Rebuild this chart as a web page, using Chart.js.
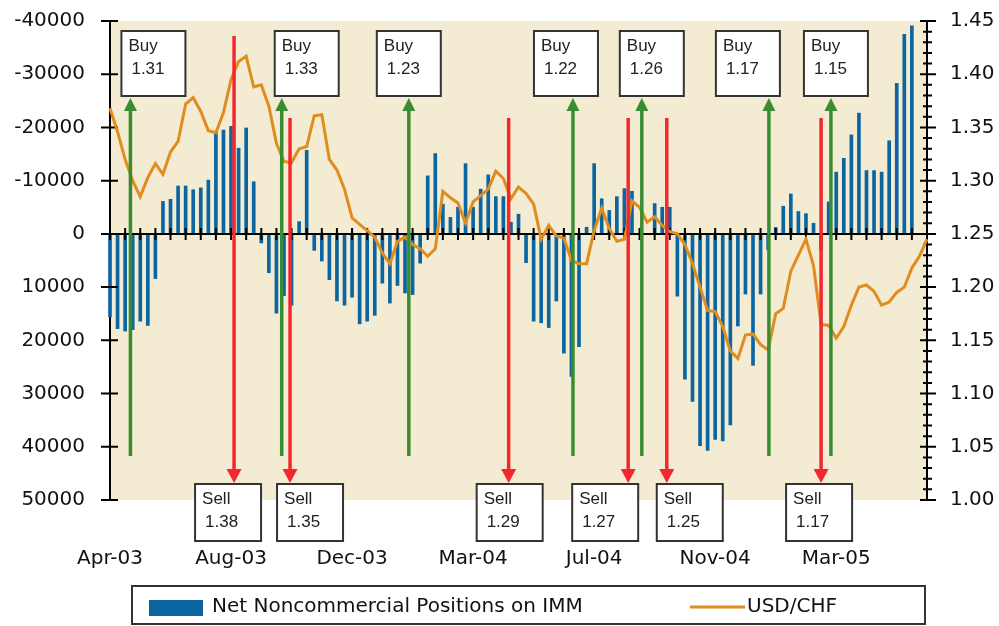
<!DOCTYPE html>
<html lang="en">
<head>
<meta charset="UTF-8">
<title>IMM Positions vs USD/CHF</title>
<script src="https://cdn.jsdelivr.net/npm/chart.js"></script>
<style>
    body { margin: 0; background: #fff; }
</style>
</head>
<body>
<canvas id="chart" width="999" height="626"></canvas>
<script>
// weekly categories, a date label every 16 weeks
const weeks = 109;
const tickLabels = ['Apr-03', 'Aug-03', 'Dec-03', 'Mar-04', 'Jul-04', 'Nov-04', 'Mar-05'];
const labelEvery = 16;

// Net noncommercial positions on IMM (contracts), left axis is reversed
const netPositions = [
    15600, 17800, 18250, 18000, 16400, 17200, 8400, -6100, -6500, -9000,
    -9000, -8300, -8650, -10100, -19100, -19500, -20200, -16100, -19900, -9800,
    1700, 7300, 14900, 11600, 13400, -2300, -15700, 3100, 5100, 8600,
    12600, 13400, 11900, 16900, 16400, 15300, 9250, 13000, 9700, 11100,
    11400, 5500, -10900, -15100, -5600, -3100, -5000, -13200, -5000, -8400,
    -11100, -7000, -7000, -2200, -3700, 5400, 16400, 16700, 17600, 12600,
    22400, 26800, 21200, -1250, -13200, -6600, -4400, -7000, -8500, -8000,
    null, null, -5700, -5000, -5000, 11700, 27300, 31500, 39800, 40700,
    38600, 38900, 35900, 17300, 11300, 24700, 11300, 3000, -1200, -5200,
    -7500, -4200, -3800, -2000, 3000, -6000, -11600, -14200, -18600, -22700,
    -11900, -11900, -11600, -17500, -28300, -37500, -39100
];

// USD/CHF, right axis
const usdChf = [
    1.368, 1.346, 1.320, 1.300, 1.285, 1.303, 1.316, 1.306, 1.327, 1.337,
    1.372, 1.378, 1.365, 1.347, 1.345, 1.364, 1.395, 1.412, 1.417, 1.388,
    1.390, 1.370, 1.335, 1.318, 1.317, 1.330, 1.332, 1.361, 1.362, 1.320,
    1.310, 1.292, 1.265, 1.259, 1.253, 1.247, 1.232, 1.222, 1.243, 1.247,
    1.240, 1.236, 1.229, 1.236, 1.290, 1.284, 1.279, 1.260, 1.280, 1.286,
    1.292, 1.309, 1.302, 1.283, 1.294, 1.288, 1.278, 1.245, 1.258, 1.248,
    1.246, 1.225, 1.222, 1.222, 1.253, 1.274, 1.255, 1.243, 1.245, 1.281,
    1.275, 1.261, 1.266, 1.258, 1.252, 1.250, 1.240, 1.222, 1.200, 1.178,
    1.177, 1.163, 1.140, 1.133, 1.155, 1.156, 1.146, 1.141, 1.175, 1.180,
    1.215, 1.230, 1.245, 1.220, 1.165, 1.164, 1.152, 1.163, 1.183, 1.200,
    1.202, 1.196, 1.183, 1.186, 1.195, 1.200, 1.218, 1.229, 1.245
];

// signals: week position (category index) and the rate shown in the box
const buyAt = [2.7, 22.7, 39.5, 61.2, 70.3, 87.1, 95.3];
const buyPrice = ['1.31', '1.33', '1.23', '1.22', '1.26', '1.17', '1.15'];
const sellAt = [16.4, 23.8, 52.7, 68.5, 73.6, 94.0];
const sellPrice = ['1.38', '1.35', '1.29', '1.27', '1.25', '1.17'];

// layout of the signal boxes (pixels, relative to the arrow)
const buyBoxShift = [-9, -7, -32, -39, -22, -53, -27];
const sellBoxShift = [-39, -13, -32, -56, -10, -35];
const sellStemTop = [36, 118, 118, 118, 118, 118];

const labels = Array.from({length: weeks}, (_, i) => i % labelEvery === 0 ? tickLabels[i / labelEvery] : '');

const GREEN = '#3A8C32';
const RED = '#F2282E';

function drawArrow(ctx, x, yFrom, yTip, color, headLen, headHalf) {
    const dir = Math.sign(yTip - yFrom);
    ctx.strokeStyle = color;
    ctx.lineWidth = 3.5;
    ctx.beginPath();
    ctx.moveTo(x, yFrom);
    ctx.lineTo(x, yTip - dir * headLen);
    ctx.stroke();
    ctx.fillStyle = color;
    ctx.beginPath();
    ctx.moveTo(x, yTip);
    ctx.lineTo(x - headHalf, yTip - dir * headLen);
    ctx.lineTo(x + headHalf, yTip - dir * headLen);
    ctx.closePath();
    ctx.fill();
}

function drawBox(ctx, left, top, w, h, line1, line2) {
    ctx.fillStyle = '#fff';
    ctx.fillRect(left, top, w, h);
    ctx.strokeStyle = '#333';
    ctx.lineWidth = 2;
    ctx.strokeRect(left, top, w, h);
    ctx.fillStyle = '#222';
    ctx.font = '17px "Liberation Sans"';
    ctx.textAlign = 'left';
    ctx.textBaseline = 'alphabetic';
    ctx.fillText(line1, left + 7, top + 20);
    ctx.fillText(line2, left + 10, top + 43);
}

// keep the plot area where the reference has it
function fixWidth(w) {
    return s => {
        s.width = w;
        s.paddingTop = 0;
        s.paddingBottom = 0;
    };
}

const decor = {
    id: 'decor',
    beforeDraw(chart) {
        const {ctx, chartArea: a} = chart;
        ctx.save();
        ctx.fillStyle = '#F3EBD2';
        ctx.fillRect(a.left, a.top, a.right - a.left, a.bottom - a.top);
        ctx.restore();
    },
    afterDatasetDraw(chart, args) {
        if (args.meta.type !== 'bar') return;
        const {ctx, chartArea: a, scales: {x, y, y2}} = chart;
        const y0 = y.getPixelForValue(0);
        ctx.save();
        ctx.strokeStyle = '#000';
        ctx.lineWidth = 2;
        ctx.beginPath();
        ctx.moveTo(a.left, y0);
        ctx.lineTo(a.right, y0);
        for (let i = 0; i < weeks; i += 2) {
            const px = x.getPixelForValue(i);
            ctx.moveTo(px, y0 - 6);
            ctx.lineTo(px, y0 + 6);
        }
        // left axis ticks cross the axis line
        y.ticks.forEach(t => {
            const py = y.getPixelForValue(t.value);
            ctx.moveTo(a.left - 9, py);
            ctx.lineTo(a.left + 8, py);
        });
        // right axis: major and minor ticks
        for (let k = 0; k <= 45; k++) {
            const py = y2.getPixelForValue(1 + k / 100);
            const major = k % 5 === 0;
            ctx.moveTo(a.right - (major ? 7 : 4), py);
            ctx.lineTo(a.right + (major ? 9 : 5), py);
        }
        ctx.stroke();
        ctx.restore();
    },
    afterDatasetsDraw(chart) {
        const {ctx, scales: {x}} = chart;
        ctx.save();
        buyAt.forEach(v => {
            drawArrow(ctx, x.getPixelForValue(v), 456, 98, GREEN, 13, 6.5);
        });
        sellAt.forEach((v, i) => {
            drawArrow(ctx, x.getPixelForValue(v), sellStemTop[i], 483, RED, 14, 7.5);
        });
        buyAt.forEach((v, i) => {
            drawBox(ctx, x.getPixelForValue(v) + buyBoxShift[i], 31, 64, 65, 'Buy', buyPrice[i]);
        });
        sellAt.forEach((v, i) => {
            drawBox(ctx, x.getPixelForValue(v) + sellBoxShift[i], 484, 66, 57, 'Sell', sellPrice[i]);
        });
        ctx.restore();
    },
    afterDraw(chart) {
        const {ctx} = chart;
        const ds = chart.data.datasets;
        ctx.save();
        ctx.strokeStyle = '#333';
        ctx.lineWidth = 2;
        ctx.strokeRect(132, 586, 793, 38);
        ctx.fillStyle = ds[0].backgroundColor;
        ctx.fillRect(149, 600, 54, 16);
        ctx.strokeStyle = ds[1].borderColor;
        ctx.lineWidth = 3;
        ctx.beginPath();
        ctx.moveTo(690, 607);
        ctx.lineTo(745, 607);
        ctx.stroke();
        ctx.fillStyle = '#111';
        ctx.font = '20px "DejaVu Sans"';
        ctx.textBaseline = 'middle';
        ctx.textAlign = 'left';
        ctx.fillText(ds[0].label, 212, 607);
        ctx.fillText(ds[1].label, 747, 607);
        ctx.restore();
    }
};

Chart.defaults.font.family = '"DejaVu Sans"';
Chart.defaults.font.size = 20;
Chart.defaults.color = '#111';

new Chart(document.getElementById('chart'), {
    type: 'bar',
    data: {
        labels: labels,
        datasets: [{
            type: 'bar',
            label: 'Net Noncommercial Positions on IMM',
            data: netPositions,
            backgroundColor: '#0A65A0',
            barThickness: 3,
            yAxisID: 'y',
            order: 1,
            clip: false
        }, {
            type: 'line',
            label: 'USD/CHF',
            data: usdChf,
            borderColor: '#E08C1E',
            borderWidth: 3,
            pointRadius: 0,
            tension: 0,
            yAxisID: 'y2',
            order: 0
        }]
    },
    options: {
        responsive: false,
        animation: false,
        devicePixelRatio: 1,
        layout: { padding: { top: 21, left: 0, right: 0, bottom: 0 } },
        plugins: {
            legend: { display: false },
            tooltip: { enabled: false }
        },
        scales: {
            x: {
                offset: false,
                grid: { display: false },
                border: { display: false },
                ticks: {
                    autoSkip: false,
                    maxRotation: 0,
                    minRotation: 0,
                    padding: 39,
                    color: '#111'
                },
                afterFit: s => { s.height = 126; }
            },
            y: {
                position: 'left',
                reverse: true,
                min: -40000,
                max: 50000,
                grid: { display: false },
                border: { color: '#000', width: 2 },
                ticks: {
                    stepSize: 10000,
                    padding: 17,
                    color: '#111',
                    callback: v => String(v)
                },
                afterFit: fixWidth(110)
            },
            y2: {
                position: 'right',
                min: 1.0,
                max: 1.45,
                grid: { display: false },
                border: { color: '#000', width: 2 },
                ticks: {
                    stepSize: 0.05,
                    padding: 15,
                    color: '#111',
                    callback: v => Number(v).toFixed(2)
                },
                afterFit: fixWidth(72)
            }
        }
    },
    plugins: [decor]
});
</script>
</body>
</html>
